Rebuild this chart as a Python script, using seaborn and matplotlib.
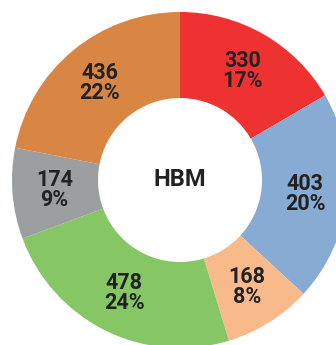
import matplotlib
matplotlib.use("Agg")
import matplotlib.pyplot as plt
import seaborn as sns
import numpy as np

sns.set_theme(style="white")

categories = ["A", "B", "C", "D", "E", "F"]
values = [330, 403, 168, 478, 174, 436]
percent_labels = ["17%", "20%", "8%", "24%", "9%", "22%"]
colors = ["#EE3131", "#87ABD2", "#F9BA8B", "#86C665", "#9C9FA0", "#D98644"]
center_label = "HBM"

W, H, DPI = 336, 345, 100
fig = plt.figure(figsize=(W / DPI, H / DPI), dpi=DPI)
fig.patch.set_facecolor("white")

# Donut centre at (180, 180) px, outer radius 168 px
cx, cy, r_out, r_in = 180, 180, 168, 82
ax = fig.add_axes([0, 0, 1, 1])

ax.pie(values, colors=colors, startangle=90, counterclock=False,
       radius=r_out, wedgeprops=dict(width=r_out - r_in, linewidth=0),
       center=(0, 0), frame=True)
ax.set_xlim(-cx, W - cx)
ax.set_ylim(-(H - cy), cy)
ax.set_aspect("equal")
ax.axis("off")

total = sum(values)
angle = 90.0
r_lab = (r_out + r_in) / 2 + 1
for v, p in zip(values, percent_labels):
    span = 360.0 * v / total
    mid = np.deg2rad(angle - span / 2)
    angle -= span
    x, y = r_lab * np.cos(mid), r_lab * np.sin(mid)
    for txt, dy in ((str(v), 10), (p, -10)):
        ax.text(x, y + dy, txt, ha="center", va="center", fontsize=15.5,
                fontweight="bold", color="#222222",
                family=["Roboto", "DejaVu Sans"])

ax.text(0, 1, center_label, ha="center", va="center", fontsize=17,
        fontweight="bold", color="#222222", family=["Roboto", "DejaVu Sans"])

fig.savefig("out.png", dpi=DPI, facecolor="white")
